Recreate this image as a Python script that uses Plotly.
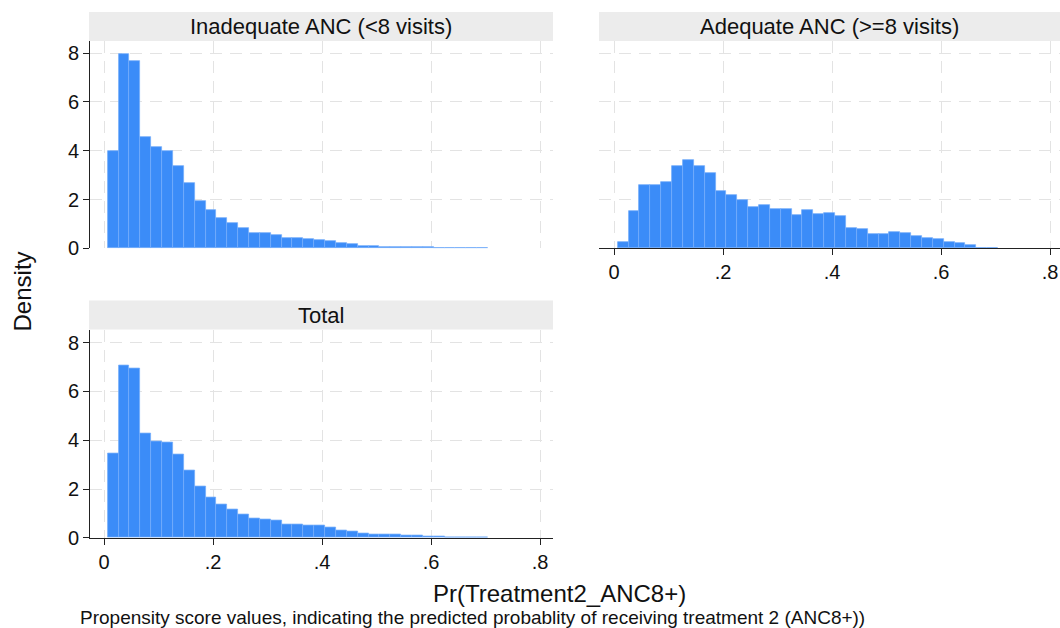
import plotly.graph_objects as go

# ---- data ----
bin_start = 0.0068
bin_width = 0.01994
n_bins = 35

inadequate = [3.99, 7.97, 7.66, 4.56, 4.16, 3.99, 3.39, 2.67, 1.94, 1.56,
              1.23, 1.05, 0.85, 0.63, 0.63, 0.55, 0.44, 0.43, 0.40, 0.35,
              0.28, 0.20, 0.16, 0.09, 0.09, 0.07, 0.05, 0.04, 0.04, 0.04,
              0.02, 0.02, 0.02, 0.02, 0.02]
adequate = [0.25, 1.54, 2.58, 2.58, 2.70, 3.36, 3.62, 3.39, 3.09, 2.36,
            2.17, 1.99, 1.69, 1.76, 1.61, 1.61, 1.35, 1.58, 1.40, 1.46,
            1.32, 0.85, 0.78, 0.60, 0.57, 0.68, 0.61, 0.50, 0.44, 0.37,
            0.27, 0.21, 0.13, 0.03, 0.02]
total = [3.46, 7.07, 6.95, 4.27, 3.94, 3.90, 3.42, 2.76, 2.09, 1.67,
         1.35, 1.18, 0.95, 0.79, 0.77, 0.70, 0.56, 0.56, 0.52, 0.51,
         0.43, 0.29, 0.24, 0.16, 0.15, 0.15, 0.12, 0.09, 0.08, 0.06,
         0.04, 0.03, 0.02, 0.02, 0.01]

panel_titles = ["Inadequate ANC (<8 visits)", "Adequate ANC (>=8 visits)", "Total"]
x_ticks = [0, 0.2, 0.4, 0.6, 0.8]
x_ticklabels = ["0", ".2", ".4", ".6", ".8"]
y_ticks = [0, 2, 4, 6, 8]
x_title = "Pr(Treatment2_ANC8+)"
y_title = "Density"
caption = "Propensity score values, indicating the predicted probablity of receiving treatment 2 (ANC8+))"

centers = [bin_start + (i + 0.5) * bin_width for i in range(n_bins)]

W, H = 1060, 628          # reference picture size (design coordinates)
FIG_H = 640               # rendered page height (captured then fitted to 628)
FONT = "Liberation Sans, Arial, sans-serif"
BAR = "#3b8cf8"
EDGE = "#74acfa"
GRID = "#e3e3e3"
AXC = "#222222"
STRIP = "#ececec"

def px(x):
    return x / W

def py(y):
    return 1 - y / H

fig = go.Figure()
series = [inadequate, adequate, total]
for k, vals in enumerate(series):
    sfx = "" if k == 0 else str(k + 1)
    fig.add_trace(go.Bar(
        x=centers, y=vals, width=[bin_width] * n_bins,
        marker=dict(color=BAR, line=dict(color=EDGE, width=0.8)),
        xaxis="x" + sfx, yaxis="y" + sfx, showlegend=False,
        hoverinfo="x+y",
    ))

# panel geometry (pixels in the reference)
panels = [
    dict(x0=90, x1=553, ytop=41, ybot=248, zero=104, strip=(89, 553, 12, 41),
         showx=False, showy=True),
    dict(x0=599, x1=1060, ytop=41, ybot=248, zero=614, strip=(599, 1060, 12, 41),
         showx=True, showy=False),
    dict(x0=90, x1=553, ytop=329, ybot=537, zero=104, strip=(89, 553, 300, 329),
         showx=True, showy=True),
]
scale = 545.0  # px per unit on x
yunit = 24.375  # px per unit on y

shapes = []
annotations = []
layout_axes = {}
for k, p in enumerate(panels):
    sfx = "" if k == 0 else str(k + 1)
    xr = [(p["x0"] - p["zero"]) / scale, (p["x1"] - p["zero"]) / scale]
    yr = [0, (p["ybot"] - p["ytop"]) / yunit]
    layout_axes["xaxis" + sfx] = dict(
        domain=[px(p["x0"]), px(p["x1"])], range=xr, anchor="y" + sfx,
        tickvals=x_ticks, ticktext=x_ticklabels,
        showticklabels=p["showx"], ticks="outside" if p["showx"] else "",
        ticklen=6, tickcolor=AXC, tickwidth=1,
        showline=p["showx"], linecolor=AXC, linewidth=1,
        showgrid=True, gridcolor=GRID, gridwidth=1, griddash="12px,8px",
        zeroline=False, fixedrange=True,
        tickfont=dict(family=FONT, size=20, color="#111"),
    )
    layout_axes["yaxis" + sfx] = dict(
        domain=[py(p["ybot"]), py(p["ytop"])], range=yr, anchor="x" + sfx,
        tickvals=y_ticks, showticklabels=p["showy"],
        ticks="outside" if p["showy"] else "", ticklen=6, tickcolor=AXC, tickwidth=1,
        showline=p["showy"], linecolor=AXC, linewidth=1,
        showgrid=True, gridcolor=GRID, gridwidth=1, griddash="12px,8px",
        zeroline=False, fixedrange=True,
        tickfont=dict(family=FONT, size=20, color="#111"),
    )
    sx0, sx1, sy0, sy1 = p["strip"]
    shapes.append(dict(type="rect", xref="paper", yref="paper",
                       x0=px(sx0), x1=px(sx1), y0=py(sy1), y1=py(sy0),
                       fillcolor=STRIP, line=dict(width=0), layer="below"))
    annotations.append(dict(text=panel_titles[k], xref="paper", yref="paper",
                            x=px((sx0 + sx1) / 2), y=py((sy0 + sy1) / 2),
                            xanchor="center", yanchor="middle", showarrow=False,
                            font=dict(family=FONT, size=22, color="#111")))

annotations.append(dict(text=x_title, xref="paper", yref="paper",
                        x=px(559), y=py(593), xanchor="center", yanchor="middle",
                        showarrow=False, font=dict(family=FONT, size=24, color="#111")))
annotations.append(dict(text=y_title, xref="paper", yref="paper",
                        x=px(22), y=py(291), xanchor="center", yanchor="middle",
                        textangle=-90, showarrow=False,
                        font=dict(family=FONT, size=24, color="#111")))
annotations.append(dict(text=caption, xref="paper", yref="paper",
                        x=px(78), y=py(617), xanchor="left", yanchor="middle",
                        showarrow=False, font=dict(family=FONT, size=19, color="#111")))

fig.update_layout(
    width=W, height=FIG_H, margin=dict(l=0, r=0, t=0, b=0),
    paper_bgcolor="white", plot_bgcolor="white",
    bargap=0, shapes=shapes, annotations=annotations,
    font=dict(family=FONT),
    **layout_axes,
)

fig.write_html("out.html", config={"displayModeBar": False},
               post_script="document.body.style.margin='0';document.body.style.overflow='hidden';")
